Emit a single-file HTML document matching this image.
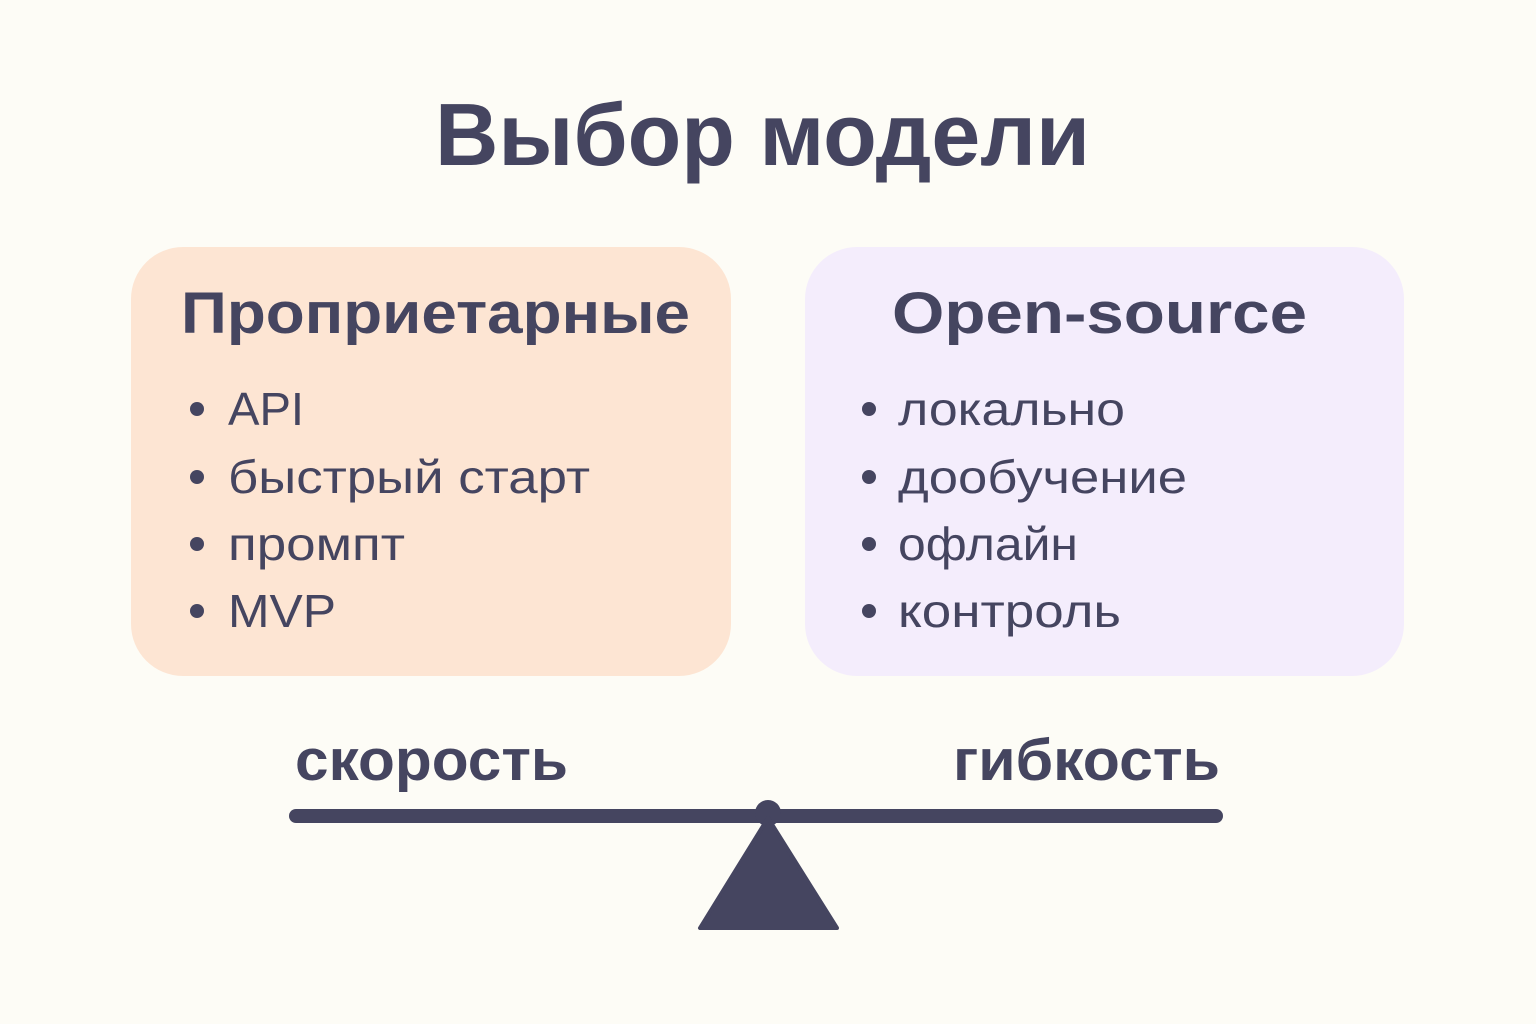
<!DOCTYPE html>
<html><head><meta charset="utf-8"><style>
html,body{margin:0;padding:0;background:#fdfcf6;}
svg{display:block}
text{font-family:"Liberation Sans",sans-serif;fill:#454560;}
</style></head><body>
<svg width="1536" height="1024" viewBox="0 0 1536 1024" xmlns="http://www.w3.org/2000/svg">
<rect width="1536" height="1024" fill="#fdfcf6"/>
<text x="435" y="165" font-size="88" font-weight="bold" textLength="655" lengthAdjust="spacingAndGlyphs">Выбор модели</text>
<rect x="131" y="247" width="600" height="429" rx="52" fill="#fde5d3"/>
<rect x="805" y="247" width="599" height="429" rx="52" fill="#f4edfc"/>
<text x="181" y="333" font-size="58" font-weight="bold" textLength="509" lengthAdjust="spacingAndGlyphs">Проприетарные</text>
<text x="892" y="333" font-size="58" font-weight="bold" textLength="415" lengthAdjust="spacingAndGlyphs">Open-source</text>
<g font-size="46">
<circle cx="197" cy="409" r="7" fill="#454560"/><text x="228" y="425" textLength="76" lengthAdjust="spacingAndGlyphs">API</text>
<circle cx="197" cy="477" r="7" fill="#454560"/><text x="228" y="493" textLength="362" lengthAdjust="spacingAndGlyphs">быстрый старт</text>
<circle cx="197" cy="544" r="7" fill="#454560"/><text x="228" y="560" textLength="177" lengthAdjust="spacingAndGlyphs">промпт</text>
<circle cx="197" cy="611" r="7" fill="#454560"/><text x="228" y="627" textLength="108" lengthAdjust="spacingAndGlyphs">MVP</text>
<circle cx="869" cy="409" r="7" fill="#454560"/><text x="898" y="425" textLength="227" lengthAdjust="spacingAndGlyphs">локально</text>
<circle cx="869" cy="477" r="7" fill="#454560"/><text x="898" y="493" textLength="289" lengthAdjust="spacingAndGlyphs">дообучение</text>
<circle cx="869" cy="544" r="7" fill="#454560"/><text x="898" y="560" textLength="180" lengthAdjust="spacingAndGlyphs">офлайн</text>
<circle cx="869" cy="611" r="7" fill="#454560"/><text x="898" y="627" textLength="223" lengthAdjust="spacingAndGlyphs">контроль</text>
</g>
<text x="295" y="780" font-size="58" font-weight="bold" textLength="273" lengthAdjust="spacingAndGlyphs">скорость</text>
<text x="953" y="780" font-size="58" font-weight="bold" textLength="267" lengthAdjust="spacingAndGlyphs">гибкость</text>
<line x1="296" y1="816" x2="1216" y2="816" stroke="#454560" stroke-width="14" stroke-linecap="round"/>
<circle cx="768" cy="813" r="13" fill="#454560"/>
<polygon points="768,818 700,928 837,928" fill="#454560" stroke="#454560" stroke-width="4" stroke-linejoin="round"/>
</svg>
</body></html>
